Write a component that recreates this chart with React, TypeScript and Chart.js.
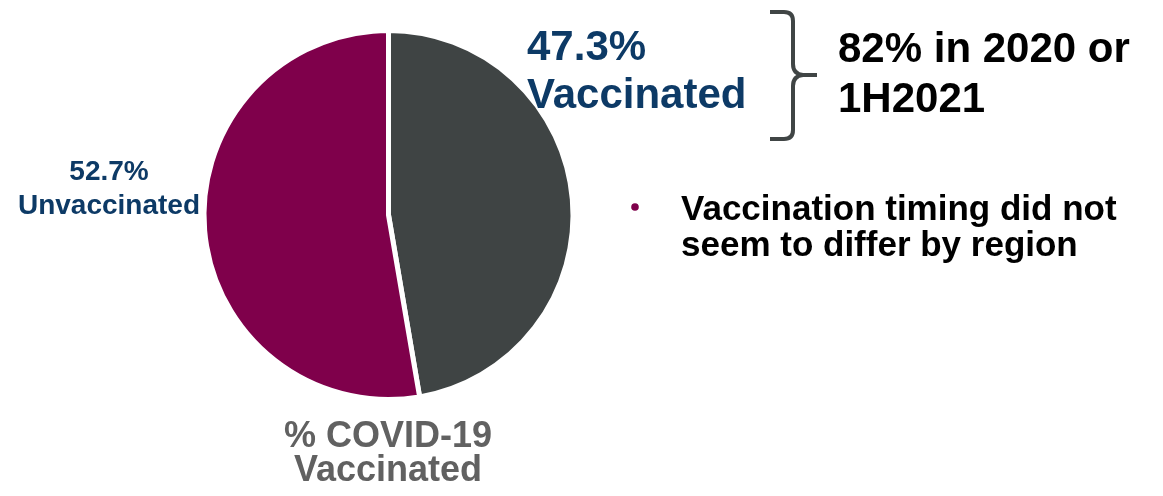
import React, { useEffect, useRef } from "react";
import { Chart, registerables } from "chart.js";

Chart.register(...registerables);

const categories = ["Vaccinated", "Unvaccinated"];
const shares = [47.3, 52.7];
const sliceColors = ["#3f4444", "#7f004b"];
const chartTitle = ["% COVID-19", "Vaccinated"];
const periodNote = ["82% in 2020 or", "1H2021"];
const bulletNote = ["Vaccination timing did not", "seem to differ by region"];

const FONT = '"Liberation Sans", Arial, sans-serif';
const BLUE = "#0d3a66";

const annotations = {
  id: "annotations",
  afterDraw(chart: Chart) {
    const ctx = chart.ctx;
    const values = chart.data.datasets[0].data as number[];
    const labels = chart.data.labels as string[];
    ctx.save();
    ctx.textBaseline = "alphabetic";

    // vaccinated share, to the upper right of the pie
    ctx.fillStyle = BLUE;
    ctx.font = `bold 42px ${FONT}`;
    ctx.textAlign = "left";
    ctx.fillText(`${values[0].toFixed(1)}%`, 527, 60);
    ctx.fillText(labels[0], 527, 108);

    // unvaccinated share, left of the pie
    ctx.font = `bold 28px ${FONT}`;
    ctx.textAlign = "center";
    ctx.fillText(`${values[1].toFixed(1)}%`, 109, 180);
    ctx.fillText(labels[1], 109, 214);

    // title under the pie
    ctx.fillStyle = "#616161";
    ctx.font = `bold 36px ${FONT}`;
    ctx.fillText(chartTitle[0], 388, 447);
    ctx.fillText(chartTitle[1], 388, 481);

    // curly brace
    ctx.strokeStyle = "#404545";
    ctx.lineWidth = 4;
    ctx.lineJoin = "round";
    ctx.beginPath();
    ctx.moveTo(770, 12);
    ctx.lineTo(784, 12);
    ctx.quadraticCurveTo(793, 12, 793, 21);
    ctx.lineTo(793, 64);
    ctx.quadraticCurveTo(793, 74, 803, 75);
    ctx.lineTo(817, 75);
    ctx.moveTo(803, 75);
    ctx.quadraticCurveTo(793, 76, 793, 86);
    ctx.lineTo(793, 130);
    ctx.quadraticCurveTo(793, 139, 784, 139);
    ctx.lineTo(770, 139);
    ctx.stroke();

    ctx.fillStyle = "#000000";
    ctx.textAlign = "left";
    ctx.font = `bold 42px ${FONT}`;
    ctx.fillText(periodNote[0], 838, 62);
    ctx.fillText(periodNote[1], 838, 112);

    // bullet point
    ctx.fillStyle = sliceColors[1];
    ctx.beginPath();
    ctx.arc(635, 207, 3.8, 0, Math.PI * 2);
    ctx.fill();
    ctx.fillStyle = "#000000";
    ctx.font = `bold 35px ${FONT}`;
    ctx.fillText(bulletNote[0], 681, 220);
    ctx.fillText(bulletNote[1], 681, 256);

    ctx.restore();
  },
};

export default function App() {
  const canvasRef = useRef<HTMLCanvasElement | null>(null);

  useEffect(() => {
    document.body.style.margin = "0";
    const canvas = canvasRef.current;
    if (!canvas) return;
    const chart = new Chart(canvas, {
      type: "pie",
      data: {
        labels: categories,
        datasets: [
          {
            data: shares,
            backgroundColor: sliceColors,
            borderColor: "#ffffff",
            borderWidth: 5,
            hoverOffset: 0,
          },
        ],
      },
      options: {
        responsive: false,
        animation: false,
        radius: 184.5,
        layout: { padding: { left: 188.5, right: 574.5, top: 15, bottom: 81 } },
        plugins: {
          legend: { display: false },
          tooltip: { enabled: false },
          title: { display: false },
        },
        events: [],
      },
      plugins: [annotations],
    });
    return () => chart.destroy();
  }, []);

  return (
    <div style={{ width: 1163, height: 496, background: "#ffffff" }}>
      <canvas ref={canvasRef} width={1163} height={496} />
    </div>
  );
}
